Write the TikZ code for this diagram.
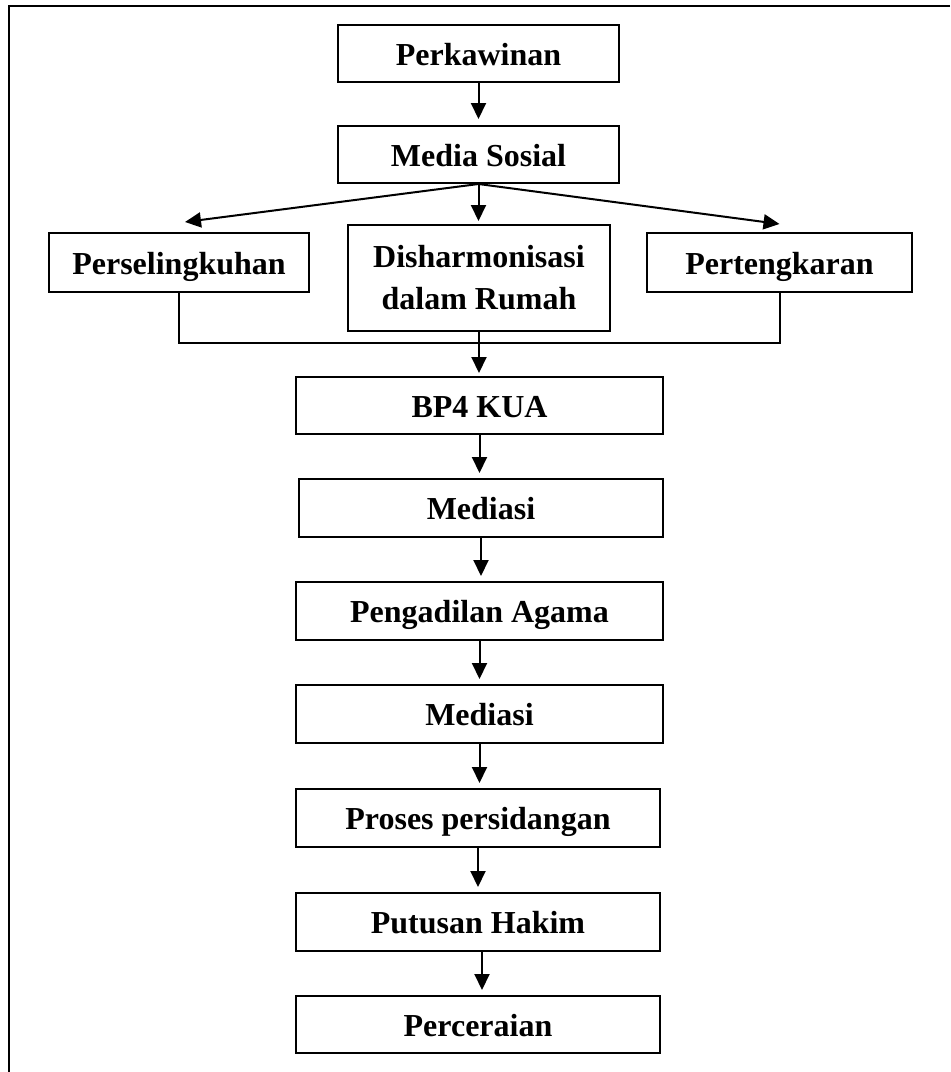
\documentclass[tikz,border=0pt]{standalone}
\usepackage{fontspec}
\setmainfont{Liberation Serif}
\usetikzlibrary{arrows.meta,calc}
\begin{document}
\begin{tikzpicture}[x=0.5pt,y=-0.5pt,
  basebox/.style={draw,line width=1pt,inner sep=0pt,
    font=\bfseries\fontsize{16}{21}\selectfont},
  box/.style={basebox,text height=0.662em+5pt,text depth=0pt},
  twoline/.style={basebox,align=center},
  arr/.style={line width=1pt,-{Triangle[length=8pt,width=7.5pt]}},
  ln/.style={line width=1pt}]
\useasboundingbox (0,0) rectangle (950,1072);
% outer frame (top and left only)
\draw[ln] (950,6) -- (9,6) -- (9,1072);

\node[box,minimum width=140.5pt,minimum height=28.5pt] (perk) at (478.5,53.5) {Perkawinan};
\node[box,minimum width=140.5pt,minimum height=28.5pt] (media) at (478.5,154.5) {Media Sosial};
\node[box,minimum width=130pt,minimum height=29.5pt] (sel) at (179,262.5) {Perselingkuhan};
\node[twoline,minimum width=131pt,minimum height=53pt] (dis) at (479,278) {Disharmonisasi\\dalam Rumah};
\node[box,minimum width=132.5pt,minimum height=29.5pt] (per) at (779.5,262.5) {Pertengkaran};
\node[box,minimum width=183.5pt,minimum height=28.5pt] (bp4) at (479.5,405.5) {BP4 KUA};
\node[box,minimum width=182pt,minimum height=29pt] (med1) at (481,508) {Mediasi};
\node[box,minimum width=183.5pt,minimum height=29pt] (pa) at (479.5,611) {Pengadilan Agama};
\node[box,minimum width=183.5pt,minimum height=29pt] (med2) at (479.5,714) {Mediasi};
\node[box,minimum width=182pt,minimum height=29pt] (pros) at (478,818) {Proses persidangan};
\node[box,minimum width=182pt,minimum height=29pt] (put) at (478,922) {Putusan Hakim};
\node[box,minimum width=182pt,minimum height=28.5pt] (cer) at (478,1024.5) {Perceraian};

\coordinate (busY) at (0,343);

\draw[arr,shorten >=3pt] (perk.south) -- (media.north);
\draw[arr] (media.south) -- ([shift={(6,-10)}]sel.north);
\draw[arr,shorten >=1.5pt] (media.south) -- (media.south |- dis.north);
\draw[arr] (media.south) -- ([shift={(0,-8)}]per.north);

\draw[ln] (sel.south) -- (sel.south |- busY) -- (per.south |- busY) -- (per.south);
\draw[arr,shorten >=1.5pt] (dis.south) -- (dis.south |- bp4.north);

\draw[arr,shorten >=2.5pt] (bp4.south) -- (bp4.south |- med1.north);
\draw[arr,shorten >=2.5pt] (med1.south) -- (med1.south |- pa.north);
\draw[arr,shorten >=2.5pt] (pa.south) -- (pa.south |- med2.north);
\draw[arr,shorten >=2.5pt] (med2.south) -- (med2.south |- pros.north);
\draw[arr,shorten >=2.5pt] (pros.south) -- (pros.south |- put.north);
\draw[arr,shorten >=2.5pt] ([xshift=2pt]put.south) -- ([xshift=2pt]put.south |- cer.north);
\end{tikzpicture}
\end{document}
